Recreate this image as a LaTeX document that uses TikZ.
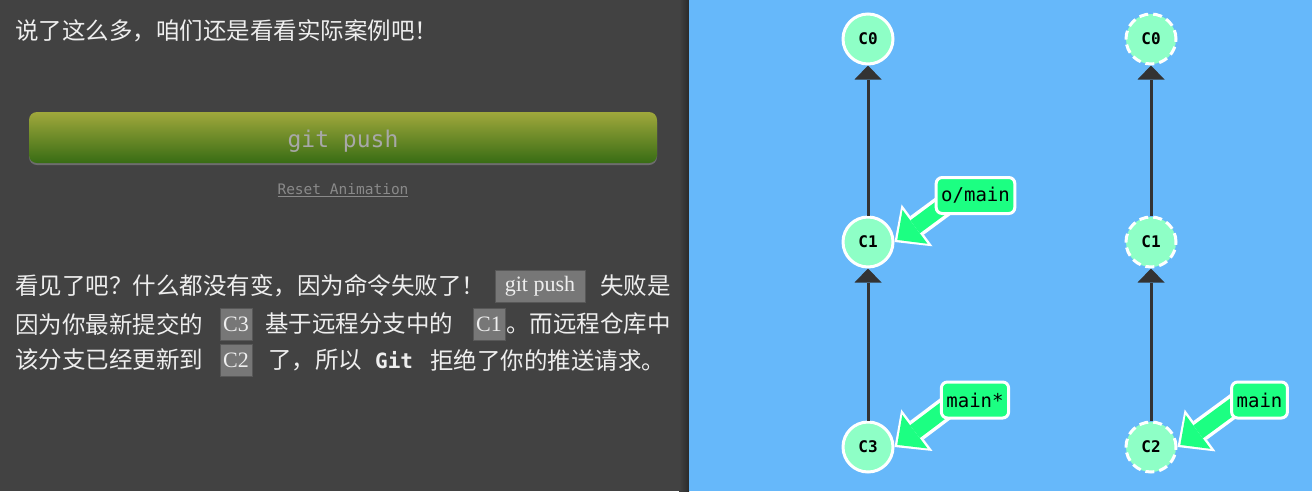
\documentclass[tikz,border=0pt]{standalone}
\usepackage{fontspec}
\newfontfamily\cjk{Noto Sans CJK SC}
\newfontfamily\mono{DejaVu Sans Mono}
\newfontfamily\codeserif{Liberation Serif}
\usetikzlibrary{arrows.meta,shadows}
\definecolor{panelgray}{HTML}{424242}
\definecolor{panelshade}{HTML}{2A2A2A}
\definecolor{skyblue}{HTML}{66B8FA}
\definecolor{mint}{HTML}{8EFFC6}
\definecolor{branchgreen}{HTML}{1CFF82}
\definecolor{edgegray}{HTML}{333333}
\definecolor{btntop}{HTML}{A0A83C}
\definecolor{btnbottom}{HTML}{386C14}
\definecolor{btntext}{HTML}{A8A8A8}
\definecolor{resetgray}{HTML}{8A8A8A}
\definecolor{codebg}{HTML}{777777}
\definecolor{codeborder}{HTML}{585858}
\definecolor{textwhite}{HTML}{EEEEEE}
\pgfdeclarelayer{panel}
\pgfdeclarelayer{arrows}
\pgfsetlayers{panel,arrows,main}

\begin{document}
\begin{tikzpicture}[x=1pt, y=-1pt, every node/.style={inner sep=0pt, text=textwhite},
	commit/.style={circle, fill=mint, draw=white, line width=3pt, minimum size=50pt, text=black, font=\mono\bfseries\fontsize{16}{16}\selectfont},
	remote/.style={commit, dash pattern=on 9pt off 5pt},
	edge/.style={edgegray, line width=3pt, -{Triangle[length=14pt,width=27pt,line width=0pt]}},
	branch/.style={fill=branchgreen, draw=white, line width=3pt, rounded corners=6pt, inner xsep=5pt, minimum height=36pt, text=black, font=\mono\fontsize{19}{19}\selectfont},
	code/.style={fill=codebg, draw=codeborder, line width=1pt, minimum height=32pt, text=textwhite, font=\codeserif\fontsize{22}{22}\selectfont},
	cn/.style={anchor=west, font=\cjk\fontsize{23.5}{23.5}\selectfont}]
	\useasboundingbox (0,0) rectangle (1312,491);
	\begin{pgfonlayer}{panel}
		\fill[panelgray] (0,0) rectangle (689,491);
		\shade[left color=panelgray, right color=panelshade] (679,0) rectangle (689,491);
		\fill[skyblue] (689,0) rectangle (1312,491);
	\end{pgfonlayer}
	\node[cn] (intro) at (15,31) {说了这么多，咱们还是看看实际案例吧！};
	\node[top color=btntop, bottom color=btnbottom, rounded corners=8pt, minimum width=628pt, minimum height=51pt, drop shadow={shadow xshift=0pt, shadow yshift=-2pt, opacity=0.7}, text=btntext, text height=25pt, text depth=5pt, font=\mono\fontsize{23}{23}\selectfont] (pushbtn) at (343,137.5) {git push};
	\node[text=resetgray, font=\mono\fontsize{14.5}{14.5}\selectfont] (reset) at (343,190) {\underline{Reset Animation}};
	\node[cn] (lineA) at (15,286) {看见了吧？什么都没有变，因为命令失败了！};
	\node[code, minimum width=90pt] (cpush) at (540,286) {git push};
	\node[cn] (lineAend) at (600,286) {失败是};
	\node[cn] (lineB) at (15,324) {因为你最新提交的};
	\node[code, minimum width=32pt] (cthree) at (236,324) {C3};
	\node[cn] (lineBmid) at (265,324) {基于远程分支中的};
	\node[code, minimum width=32pt] (cone) at (489,324) {C1};
	\node[cn] (lineBend) at (506,324) {。而远程仓库中};
	\node[cn] (lineC) at (15,360) {该分支已经更新到};
	\node[code, minimum width=32pt] (ctwo) at (236,360) {C2};
	\node[cn] (lineCmid) at (268,360) {了，所以};
	\node[anchor=west, font=\mono\bfseries\fontsize{21}{21}\selectfont] (gitword) at (375,360) {Git};
	\node[cn] (lineCend) at (430,360) {拒绝了你的推送请求。};

	\node[commit] (c0) at (868,39) {C0};
	\node[commit] (c1) at (868,242) {C1};
	\node[commit] (c3) at (868,447) {C3};
	\node[remote] (r0) at (1151,39) {C0};
	\node[remote] (r1) at (1151,242) {C1};
	\node[remote] (r2) at (1151,447) {C2};
	\draw[edge] (c1) -- (c0);
	\draw[edge] (c3) -- (c1);
	\draw[edge] (r1) -- (r0);
	\draw[edge] (r2) -- (r1);

	\node[branch] (omain) at (975.5,195.5) {o/main};
	\node[branch] (mainstar) at (975,400) {main*};
	\node[branch] (main) at (1259.5,400) {main};
	\begin{pgfonlayer}{arrows}
		\foreach \b/\c in {omain/c1, mainstar/c3, main/r2} {
			\draw[white, line width=23pt, -{Triangle[length=28pt,width=52pt,line width=0pt]}] ([xshift=-18pt]\b.center) -- (\c.east);
			\draw[branchgreen, line width=16pt, shorten >=3.5pt, -{Triangle[length=22pt,width=42pt,line width=0pt]}] ([xshift=-18pt]\b.center) -- (\c.east);
		}
	\end{pgfonlayer}
\end{tikzpicture}
\end{document}
